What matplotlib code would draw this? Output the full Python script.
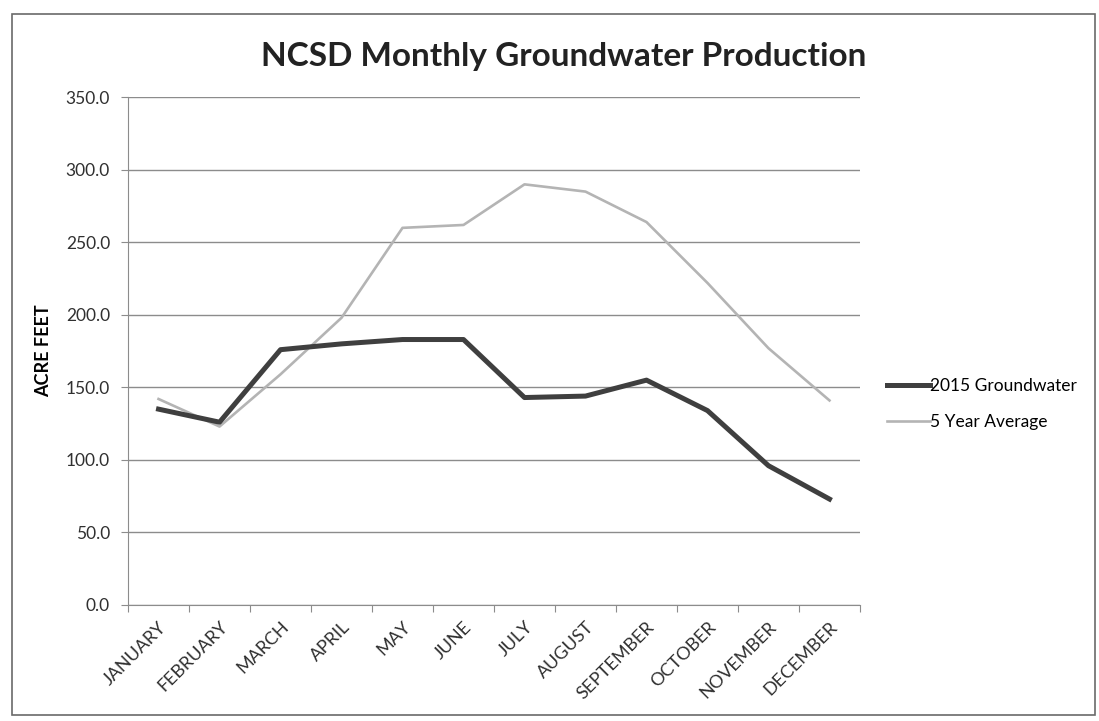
import matplotlib
matplotlib.use("Agg")
import matplotlib.pyplot as plt
from matplotlib.patches import Rectangle
from matplotlib.ticker import FormatStrFormatter

plt.rcParams['font.family'] = ['Lato', 'DejaVu Sans']

months = ['JANUARY', 'FEBRUARY', 'MARCH', 'APRIL', 'MAY', 'JUNE', 'JULY',
          'AUGUST', 'SEPTEMBER', 'OCTOBER', 'NOVEMBER', 'DECEMBER']
groundwater_2015 = [135, 126, 176, 180, 183, 183, 143, 144, 155, 134, 96, 73]
five_year_avg = [142, 123, 159, 198, 260, 262, 290, 285, 264, 222, 177, 141]
y_ticks = [0, 50, 100, 150, 200, 250, 300, 350]

fig = plt.figure(figsize=(10.99, 7.21), dpi=100)
ax = fig.add_axes([0.1165, 0.161, 0.666, 0.704])

x = range(len(months))
ax.plot(x, groundwater_2015, color='#3f3f3f', lw=3.6, label='2015 Groundwater',
        solid_joinstyle='round', zorder=3)
ax.plot(x, five_year_avg, color='#b4b4b4', lw=1.9, label='5 Year Average',
        zorder=2)

ax.set_xlim(-0.5, len(months) - 0.5)
ax.set_ylim(0, 350)
ax.set_yticks(y_ticks)
ax.yaxis.set_major_formatter(FormatStrFormatter('%.1f'))
ax.grid(axis='y', color='#8c8c8c', lw=1.0)
ax.set_axisbelow(True)

# category ticks sit between months, labels at the centres
ax.set_xticks([i - 0.5 for i in range(len(months) + 1)])
ax.set_xticklabels([])
ax.set_xticks(list(x), minor=True)
ax.set_xticklabels(months, minor=True, rotation=45, ha='right',
                   rotation_mode='anchor', fontsize=13, color='#303030')
ax.tick_params(axis='x', which='minor', length=0, pad=10)
ax.tick_params(axis='x', which='major', length=5, color='#8c8c8c')
ax.tick_params(axis='y', length=5, color='#8c8c8c', labelsize=12.5,
               labelcolor='#303030', pad=8)

for side in ['top', 'right']:
    ax.spines[side].set_visible(False)
for side in ['left', 'bottom']:
    ax.spines[side].set_color('#8c8c8c')

ax.set_ylabel('ACRE FEET', fontsize=13, fontweight='bold', labelpad=10)
fig.text(0.513, 0.922, 'NCSD Monthly Groundwater Production', ha='center',
         va='center', fontsize=24, fontweight='bold', color='#222222')

leg = fig.legend(loc='center left', bbox_to_anchor=(0.807, 0.44), frameon=False,
                 fontsize=12.5, handlelength=2.5, handletextpad=0.0,
                 labelspacing=1.15, borderaxespad=0.0, borderpad=0.0)

# chart border
fig.patches.append(Rectangle((0.011, 0.008), 0.985, 0.972, transform=fig.transFigure,
                             fill=False, edgecolor='#6a6a6a', lw=1.2))

fig.savefig('out.png', dpi=100)
